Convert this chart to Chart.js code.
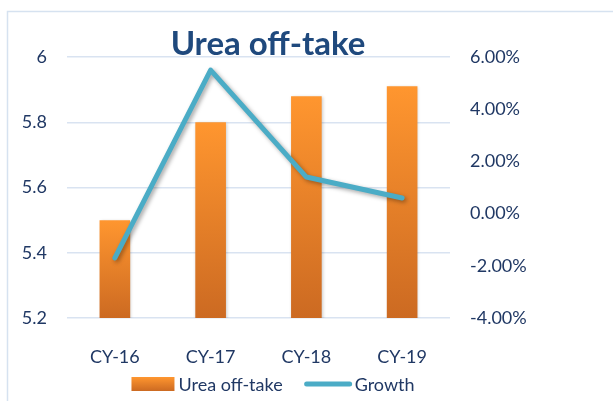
<!DOCTYPE html>
<html>
<head>
<meta charset="utf-8">
<script src="https://cdn.jsdelivr.net/npm/chart.js@4/dist/chart.umd.min.js"></script>
<style>
  html, body { margin: 0; padding: 0; background: #fff; }
  #wrap { width: 613px; height: 401px; overflow: hidden; }
</style>
</head>
<body>
<div id="wrap"><canvas id="chart" width="613" height="401"></canvas></div>
<script>
// Chart data
const years = ['CY-16', 'CY-17', 'CY-18', 'CY-19'];
const offtake = [5.50, 5.80, 5.88, 5.91];
const growth = [-1.70, 5.50, 1.40, 0.60]; // percent
const leftTicks = [5.2, 5.4, 5.6, 5.8, 6];
const rightTicks = [-4, -2, 0, 2, 4, 6];

const FONT = 'Lato, "Open Sans", sans-serif';
const TEXT = '#203864';

function barGradient(ctx, yTop, yBottom) {
    const g = ctx.createLinearGradient(0, yTop, 0, yBottom);
    g.addColorStop(0, '#FF962F');
    g.addColorStop(1, '#CC6A22');
    return g;
}

// border, title, legend, shadows
const decor = {
    id: 'decor',
    beforeDraw(chart) {
        const ctx = chart.ctx;
        ctx.save();
        ctx.strokeStyle = '#D6E2F0';
        ctx.lineWidth = 1.5;
        ctx.strokeRect(7.5, 11.5, 700, 500);
        ctx.restore();
    },
    beforeDatasetDraw(chart, args) {
        const ctx = chart.ctx;
        ctx.save();
        if (args.meta.type === 'line') {
            ctx.shadowColor = 'rgba(0,0,0,0.35)';
            ctx.shadowBlur = 4;
            ctx.shadowOffsetX = 2;
            ctx.shadowOffsetY = 2;
        } else {
            ctx.shadowColor = 'rgba(0,0,0,0.2)';
            ctx.shadowBlur = 3;
            ctx.shadowOffsetX = 1;
            ctx.shadowOffsetY = 1;
        }
    },
    afterDatasetDraw(chart) {
        chart.ctx.restore();
    },
    afterDraw(chart) {
        const ctx = chart.ctx;
        ctx.save();
        // title
        ctx.font = 'bold 33px ' + FONT;
        ctx.fillStyle = '#1F497D';
        ctx.textAlign = 'center';
        ctx.textBaseline = 'alphabetic';
        ctx.fillText('Urea off-take', 268, 55);

        // legend
        const ds = chart.data.datasets;
        ctx.font = '18px ' + FONT;
        ctx.textAlign = 'left';
        ctx.textBaseline = 'middle';
        const ly = 384;
        const w1 = ctx.measureText(ds[0].label).width;
        const w2 = ctx.measureText(ds[1].label).width;
        const total = 43 + 4 + w1 + 22 + 47 + 3 + w2;
        let x = 273 - total / 2;
        ctx.fillStyle = barGradient(ctx, ly - 7, ly + 7);
        ctx.fillRect(x, ly - 7, 43, 14);
        x += 47;
        ctx.fillStyle = TEXT;
        ctx.fillText(ds[0].label, x, ly + 1);
        x += w1 + 24;
        ctx.strokeStyle = '#4BACC6';
        ctx.lineWidth = 5;
        ctx.lineCap = 'round';
        ctx.beginPath();
        ctx.moveTo(x, ly);
        ctx.lineTo(x + 43, ly);
        ctx.stroke();
        x += 48;
        ctx.fillText(ds[1].label, x, ly + 1);
        ctx.restore();
    }
};

new Chart(document.getElementById('chart'), {
    data: {
        labels: years,
        datasets: [
            {
                type: 'bar',
                label: 'Urea off-take',
                data: offtake,
                yAxisID: 'y',
                order: 1,
                categoryPercentage: 1,
                barPercentage: 0.32,
                backgroundColor: function(context) {
                    const chart = context.chart;
                    if (!chart.chartArea) return '#F08A2C';
                    const ys = chart.scales.y;
                    const v = context.raw;
                    return barGradient(chart.ctx, ys.getPixelForValue(v), ys.getPixelForValue(ys.min));
                }
            },
            {
                type: 'line',
                label: 'Growth',
                data: growth,
                yAxisID: 'y1',
                order: 0,
                borderColor: '#4BACC6',
                borderWidth: 5,
                borderCapStyle: 'round',
                borderJoinStyle: 'round',
                pointRadius: 0,
                pointHoverRadius: 0,
                tension: 0
            }
        ]
    },
    options: {
        responsive: false,
        animation: false,
        layout: { padding: { top: 57, left: 0, right: 0, bottom: 0 } },
        plugins: {
            legend: { display: false },
            title: { display: false },
            tooltip: { enabled: false }
        },
        scales: {
            x: {
                grid: { display: false },
                border: { display: false },
                ticks: { color: TEXT, font: { family: FONT, size: 18 }, padding: 20 },
                afterFit: s => { s.height = 83; }
            },
            y: {
                position: 'left',
                min: 5.2,
                max: 6,
                afterBuildTicks: s => { s.ticks = leftTicks.map(v => ({ value: v })); },
                ticks: {
                    color: TEXT,
                    font: { family: FONT, size: 18 },
                    padding: 20,
                    callback: v => String(Math.round(v * 10) / 10)
                },
                grid: { color: '#D9E3F1', lineWidth: 1.5, drawTicks: false },
                border: { display: false },
                afterFit: s => { s.width = 67; }
            },
            y1: {
                position: 'right',
                min: -4,
                max: 6,
                afterBuildTicks: s => { s.ticks = rightTicks.map(v => ({ value: v })); },
                ticks: {
                    color: TEXT,
                    font: { family: FONT, size: 18 },
                    padding: 20,
                    callback: v => v.toFixed(2) + '%'
                },
                grid: { display: false, drawTicks: false },
                border: { display: false },
                afterFit: s => { s.width = 163; }
            }
        }
    },
    plugins: [decor]
});
</script>
</body>
</html>
